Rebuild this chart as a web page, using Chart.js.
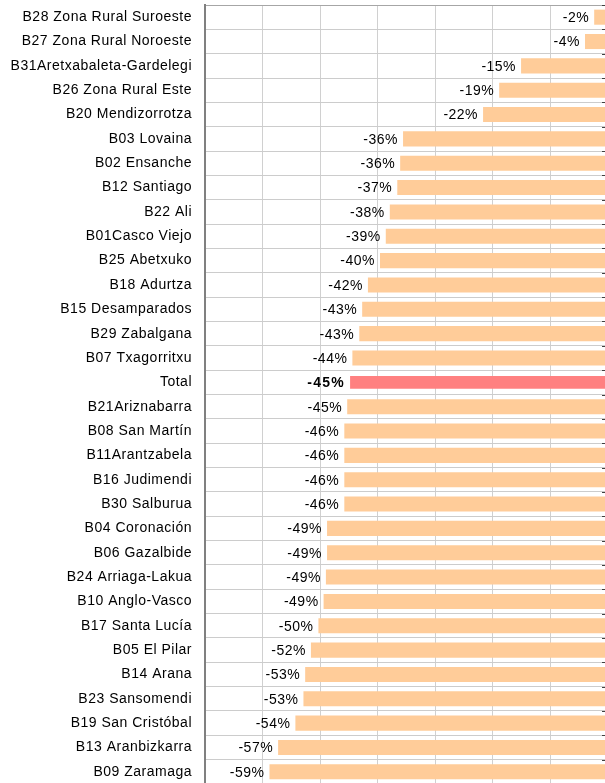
<!DOCTYPE html>
<html><head><meta charset="utf-8">
<script src="https://cdn.jsdelivr.net/npm/chart.js@4/dist/chart.umd.min.js"></script>
<style>
html,body{margin:0;padding:0;background:#fff;overflow:hidden;}
#wrap{position:relative;width:605px;height:783px;overflow:hidden;background:#fff;}
#c{position:absolute;left:0;top:0;}
</style></head><body>
<div id="wrap"><canvas id="c" width="608" height="784" style="width:608px;height:784px"></canvas></div>
<script>
const categories = [
  "B28 Zona Rural Suroeste","B27 Zona Rural Noroeste","B31Aretxabaleta-Gardelegi","B26 Zona Rural Este",
  "B20 Mendizorrotza","B03 Lovaina","B02 Ensanche","B12 Santiago","B22 Ali","B01Casco Viejo",
  "B25 Abetxuko","B18 Adurtza","B15 Desamparados","B29 Zabalgana","B07 Txagorritxu","Total",
  "B21Ariznabarra","B08 San Martín","B11Arantzabela","B16 Judimendi","B30 Salburua","B04 Coronación",
  "B06 Gazalbide","B24 Arriaga-Lakua","B10 Anglo-Vasco","B17 Santa Lucía","B05 El Pilar","B14 Arana",
  "B23 Sansomendi","B19 San Cristóbal","B13 Aranbizkarra","B09 Zaramaga"
];
const changes = [
  -2.4,-4.0,-15.1,-18.9,-21.7,-35.6,-36.1,-36.6,-37.9,-38.6,
  -39.6,-41.7,-42.7,-43.2,-44.4,-44.8,-45.3,-45.8,-45.8,-45.8,
  -45.8,-48.8,-48.8,-49.0,-49.4,-50.3,-51.6,-52.6,-52.9,-54.3,
  -57.3,-58.8
];
const highlightLabel = "Total";
const axisMin = -70, axisMax = 0, axisStep = 10;

const hi = categories.indexOf(highlightLabel);
const barrioData = changes.map((v,i)=> i===hi ? null : v);
const totalData = changes.map((v,i)=> i===hi ? v : null);

const FONT = '"Liberation Sans", Arial, sans-serif';

const spacingPlugin = {
  id:'spacing',
  beforeUpdate(chart){ chart.ctx.letterSpacing = '0.5px'; },
  beforeDraw(chart){ chart.ctx.letterSpacing = '0.5px'; }
};

const labelPlugin = {
  id:'barLabels',
  afterDatasetsDraw(chart){
    const ctx = chart.ctx;
    chart.data.datasets.forEach((ds,di)=>{
      const meta = chart.getDatasetMeta(di);
      meta.data.forEach((el,i)=>{
        const v = ds.data[i];
        if (v == null) return;
        const bold = di === 1;
        ctx.save();
        ctx.font = (bold ? 'bold ' : '') + '14px ' + FONT;
        ctx.letterSpacing = bold ? '1.3px' : '0.5px';
        ctx.fillStyle = '#000';
        ctx.textAlign = 'right';
        ctx.textBaseline = 'middle';
        ctx.fillText(Math.round(v) + '%', el.x - 5, el.y + 1);
        ctx.restore();
      });
    });
  }
};

const tickMarkPlugin = {
  id:'rightTicks',
  afterDraw(chart){
    const ctx = chart.ctx, y = chart.scales.y, a = chart.chartArea;
    ctx.save();
    ctx.strokeStyle = '#404040';
    ctx.lineWidth = 1;
    for (let i = 0; i <= categories.length; i++) {
      const py = Math.round(y.getPixelForValue(i - 0.5)) + 0.5;
      ctx.beginPath();
      ctx.moveTo(a.right - 6, py);
      ctx.lineTo(a.right, py);
      ctx.stroke();
    }
    ctx.restore();
  }
};

new Chart(document.getElementById('c'), {
  type:'bar',
  data:{
    labels: categories,
    datasets:[
      {data: barrioData, backgroundColor:'#FFCC99', borderWidth:0, grouped:false, barPercentage:0.62, categoryPercentage:1},
      {data: totalData, backgroundColor:'#FF8080', borderWidth:0, grouped:false, barPercentage:0.52, categoryPercentage:1}
    ]
  },
  options:{
    indexAxis:'y',
    responsive:false,
    animation:false,
    events:[],
    layout:{padding:{top:5,left:0,right:0,bottom:0}},
    plugins:{legend:{display:false}, tooltip:{enabled:false}},
    scales:{
      x:{
        min:axisMin, max:axisMax,
        ticks:{display:false, stepSize:axisStep},
        grid:{color:'#d0d0d0', lineWidth:1, drawTicks:false},
        border:{display:false},
        afterFit(s){ s.height = 0; s.paddingLeft = 0; s.paddingRight = 0; }
      },
      y:{
        ticks:{color:'#000', font:{family:FONT, size:14}, padding:13, autoSkip:false},
        grid:{color:(c)=> c.index===0 ? '#a6a6a6' : '#cccccc', lineWidth:1, drawTicks:false, offset:true},
        border:{display:true, color:'#808080', width:2},
        afterFit(s){ s.width = 205; s.paddingTop = 0; s.paddingBottom = 0; }
      }
    }
  },
  plugins:[spacingPlugin, labelPlugin, tickMarkPlugin]
});
</script>
</body></html>
